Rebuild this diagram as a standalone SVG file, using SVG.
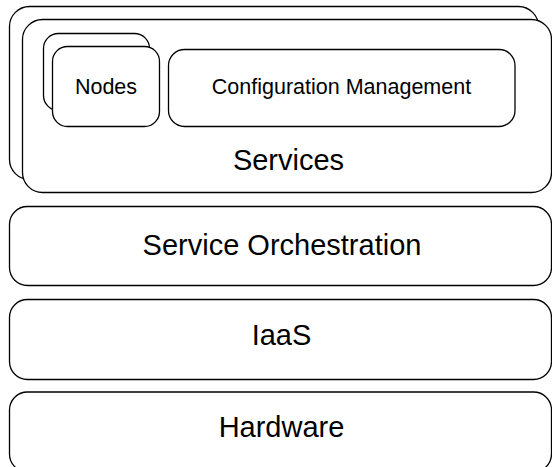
<svg xmlns="http://www.w3.org/2000/svg" width="552" height="467" viewBox="0 0 552 467">
  <style>
    .box { fill: #ffffff; stroke: #000000; stroke-width: 1.3; }
    .lbl { font-family: "Liberation Sans", Arial, sans-serif; fill: #000000; text-anchor: middle; }
    .big { font-size: 29px; }
    .small { font-size: 21.5px; }
  </style>
  <rect width="552" height="467" fill="#ffffff"/>

  <!-- Services: stacked pair of rounded boxes -->
  <g id="services">
    <rect class="box" x="9.5" y="6.5" width="529" height="173" rx="20" ry="20"/>
    <rect class="box" x="22.5" y="19.5" width="529" height="173" rx="20" ry="20"/>
    <text class="lbl big" x="288.5" y="169.5">Services</text>
  </g>

  <!-- Nodes: stacked pair -->
  <g id="nodes">
    <rect class="box" x="43.5" y="33.5" width="106" height="77" rx="15" ry="15"/>
    <rect class="box" x="52.5" y="46.5" width="107" height="80" rx="15" ry="15"/>
    <text class="lbl small" x="106" y="93.5">Nodes</text>
  </g>

  <g id="config-management">
    <rect class="box" x="168.5" y="49.5" width="346.5" height="77" rx="16" ry="16"/>
    <text class="lbl small" x="341.5" y="93.5">Configuration Management</text>
  </g>

  <g id="service-orchestration">
    <rect class="box" x="9.5" y="206.5" width="542" height="79" rx="18" ry="18"/>
    <text class="lbl big" x="282" y="255">Service Orchestration</text>
  </g>

  <g id="iaas">
    <rect class="box" x="9.5" y="299.5" width="542" height="80" rx="18" ry="18"/>
    <text class="lbl big" x="281.5" y="345">IaaS</text>
  </g>

  <g id="hardware">
    <rect class="box" x="9.5" y="392" width="542" height="80" rx="18" ry="18"/>
    <text class="lbl big" x="281.5" y="437">Hardware</text>
  </g>

  <g id="connectors"/>
</svg>
